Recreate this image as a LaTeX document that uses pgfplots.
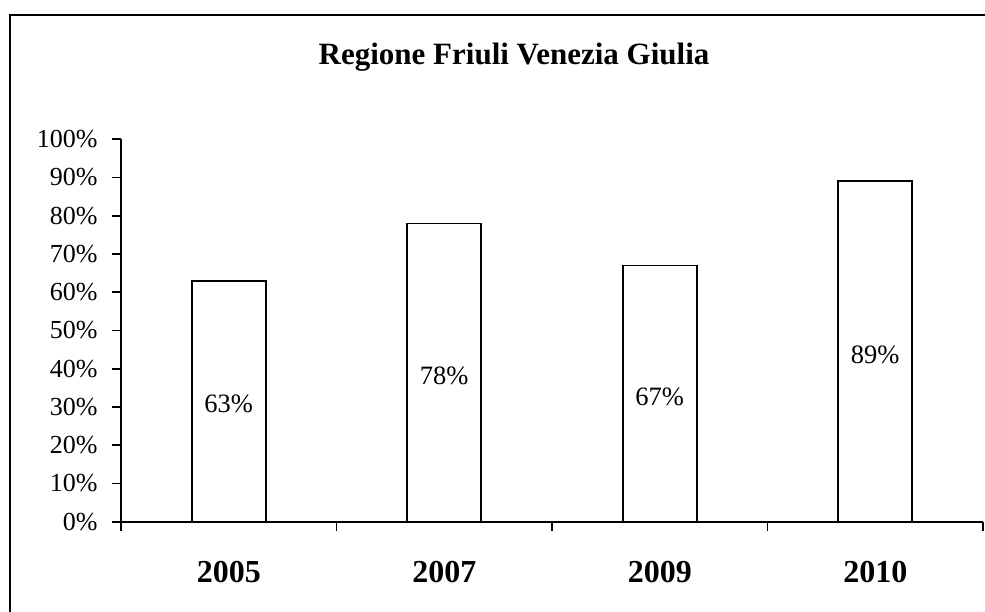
\documentclass[border=0pt]{standalone}
\usepackage{fontspec}
\setmainfont{Liberation Serif}
\usepackage{pgfplots}
\pgfplotsset{compat=1.18}

\begin{document}
\begin{tikzpicture}
  \clip (0bp,0bp) rectangle (985bp,-612bp);
  \draw[line width=2bp] (10bp,-14.5bp) rectangle (1000bp,-650bp);
  \node[font=\fontsize{31bp}{37bp}\selectfont\bfseries] at (514bp,-57bp) {Regione Friuli Venezia Giulia};
  \begin{axis}[
    at={(121bp,-521.7bp)}, anchor=south west,
    scale only axis, width=862bp, height=382.5bp,
    xmin=-0.5, xmax=3.5, ymin=0, ymax=100,
    enlargelimits=false,
    axis x line*=bottom, axis y line*=left,
    axis line style={line width=1.6bp, black},
    tick style={line width=1.6bp, black},
    tick align=outside, major tick length=9bp,
    ytick={0,10,...,100},
    yticklabel={\pgfmathprintnumber[assume math mode=true]{\tick}\%},
    yticklabel style={font=\fontsize{26bp}{31bp}\selectfont, xshift=-11bp},
    xtick={-0.5,0.5,1.5,2.5,3.5},
    xticklabels={2005,2007,2009,2010},
    x tick label as interval,
    xticklabel style={font=\fontsize{32bp}{38bp}\selectfont\bfseries, yshift=-27bp},
    ybar, bar width=74bp,
    visualization depends on=y \as \rawy,
    nodes near coords={\pgfmathprintnumber[assume math mode=true]{\pgfplotspointmeta}\%},
    every node near coord/.append style={anchor=center, font=\fontsize{26.5bp}{32bp}\selectfont,
      shift={(axis direction cs:0,-\rawy/2)}, yshift=-3bp},
  ]
  \addplot[fill=white, draw=black, line width=1.6bp]
    coordinates {(0,63) (1,78) (2,67) (3,89)};
  \end{axis}
\end{tikzpicture}
\end{document}
